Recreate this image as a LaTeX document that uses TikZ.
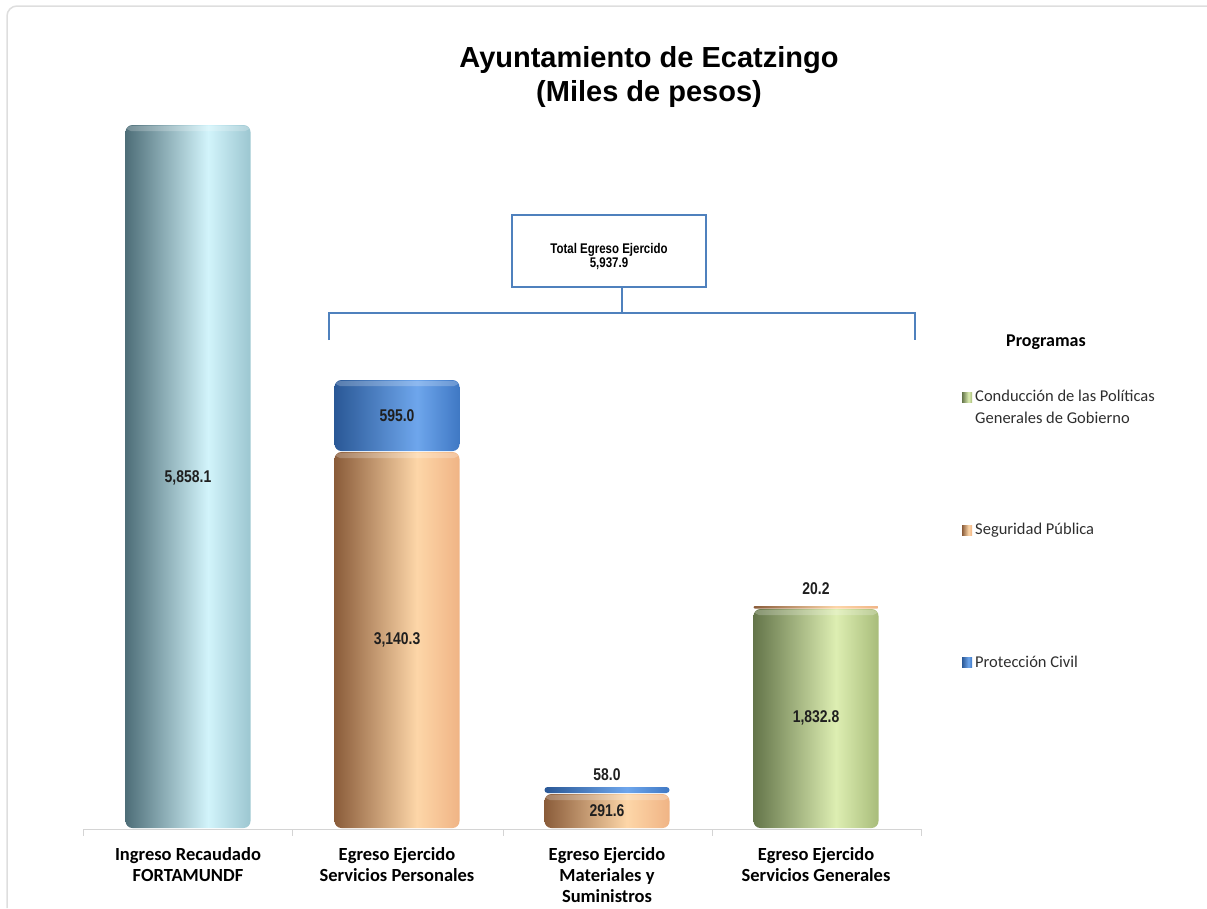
\documentclass[tikz,border=0pt]{standalone}
\usepackage{fontspec}
\setmainfont{Liberation Sans}
\newfontfamily\calibri{Carlito}
\newfontfamily\narrow{Liberation Sans}[FakeStretch=0.82]
\usetikzlibrary{positioning}

\definecolor{cyanD}{HTML}{4E6E78}
\definecolor{cyanL}{HTML}{D2F4FB}
\definecolor{cyanM}{HTML}{9CC6D0}
\definecolor{orangeD}{HTML}{8A5C3A}
\definecolor{orangeL}{HTML}{FDD6A8}
\definecolor{orangeM}{HTML}{F0B485}
\definecolor{blueD}{HTML}{2A5896}
\definecolor{blueL}{HTML}{6EA6EC}
\definecolor{blueM}{HTML}{3F78C4}
\definecolor{greenD}{HTML}{64754A}
\definecolor{greenL}{HTML}{DDEEB2}
\definecolor{greenM}{HTML}{A8BC7A}
\definecolor{bracketblue}{HTML}{4F81BD}

\pgfdeclarehorizontalshading{cylCyan}{100bp}{color(0bp)=(cyanD); color(25bp)=(cyanD); color(58bp)=(cyanL); color(75bp)=(cyanM); color(100bp)=(cyanM)}
\pgfdeclarehorizontalshading{cylOrange}{100bp}{color(0bp)=(orangeD); color(25bp)=(orangeD); color(58bp)=(orangeL); color(75bp)=(orangeM); color(100bp)=(orangeM)}
\pgfdeclarehorizontalshading{cylBlue}{100bp}{color(0bp)=(blueD); color(25bp)=(blueD); color(58bp)=(blueL); color(75bp)=(blueM); color(100bp)=(blueM)}
\pgfdeclarehorizontalshading{cylGreen}{100bp}{color(0bp)=(greenD); color(25bp)=(greenD); color(58bp)=(greenL); color(75bp)=(greenM); color(100bp)=(greenM)}

\begin{document}
\begin{tikzpicture}[
        x=1pt, y=-1pt,
        frame/.style={draw=black!13, line width=1.5pt, rounded corners=10pt},
        title/.style={font=\bfseries\fontsize{29}{34}\selectfont, align=center},
        value/.style={font=\narrow\bfseries\fontsize{17}{20}\selectfont, text=black!88},
        catlabel/.style={font=\calibri\bfseries\fontsize{18.5}{21}\selectfont, align=center, anchor=north, inner sep=0pt},
        axis/.style={draw=black!17, line width=1pt},
        totalbox/.style={draw=bracketblue, line width=2pt, minimum width=194pt, minimum height=72pt, inner sep=0pt, font=\narrow\bfseries\fontsize{14}{14}\selectfont},
        bracket/.style={draw=bracketblue, line width=2pt},
        rim/.style={fill=white, opacity=0.22, rounded corners=4pt},
        legendhead/.style={font=\calibri\bfseries\fontsize{18}{21}\selectfont},
        legendtext/.style={font=\calibri\fontsize{16.5}{22}\selectfont, align=left, anchor=west, inner sep=0pt, text=black!82},
        legendmark/.style={shade, minimum size=10pt, inner sep=0pt}
        ]
        \useasboundingbox (0,0) rectangle (1207,908);

        % Frame and title
        \draw[frame] (7,908) -- (7,6) -- (1207,6);
        \node[title] (chart_title) at (649,77) {Ayuntamiento de Ecatzingo\\(Miles de pesos)};

        % Bars (stacked segments)
        \foreach \xc/\ytop/\ybot/\shd/\rad in {188/125/828/cylCyan/7, 397/452/828/cylOrange/7, 397/380/451/cylBlue/7,
                607/794/828/cylOrange/7, 607/787/793/cylBlue/3, 816/609/828/cylGreen/7, 816/606/608.5/cylOrange/1.2}
            \shade[shading=\shd, rounded corners=\rad] (\xc-62.5,\ytop) rectangle (\xc+62.5,\ybot);
        % light rim on the lids
        \foreach \xc/\ytop in {188/125, 397/380, 397/452, 607/794, 816/609}
            \fill[rim] (\xc-61,\ytop+1) rectangle (\xc+61,\ytop+6);

        % Values
        \foreach \xc/\ly/\val/\nm in {188/478/{5,858.1}/ingreso, 397/640/{3,140.3}/personales-seg, 397/416/{595.0}/personales-prot,
                607/811/{291.6}/materiales-seg, 607/775/{58.0}/materiales-prot, 816/718/{1,832.8}/generales-cond, 816/589/{20.2}/generales-seg}
            \node[value] (val-\nm) at (\xc,\ly) {\val};

        % Category axis
        \coordinate (axis_l) at (83,829);
        \coordinate (axis_r) at (921,829);
        \draw[axis] (axis_l) -- (axis_r);
        \foreach \tx in {83,292,503,712,921}
            \draw[axis] (\tx,829) -- (\tx,836);
        \foreach \xc/\txt/\nm in {188/{Ingreso Recaudado\\FORTAMUNDF}/ingreso, 397/{Egreso Ejercido\\Servicios Personales}/personales,
                607/{Egreso Ejercido\\Materiales y\\Suministros}/materiales, 816/{Egreso Ejercido\\Servicios Generales}/generales}
            \node[catlabel] (cat-\nm) at (\xc,847) {\txt};

        % Total box and bracket
        \node[totalbox] (total_egreso) at (609,251)
            {\raisebox{-10.5pt}[0pt][0pt]{\begin{tabular}{@{}c@{}}Total Egreso Ejercido\\5,937.9\end{tabular}}};
        \coordinate (bracket_mid) at (622,313);
        \coordinate (bracket_l) at (329,340);
        \coordinate (bracket_r) at (915,340);
        \draw[bracket] (total_egreso.south -| bracket_mid) -- (bracket_mid);
        \draw[bracket] (bracket_l) -- (bracket_l |- bracket_mid) -- (bracket_r |- bracket_mid) -- (bracket_r);

        % Legend
        \node[legendhead] (programas) at (1046,342) {Programas};
        \node[legendmark, shading=cylGreen] (mark-cond) at (967,397) {};
        \node[legendtext] (leg-cond) at (975,407) {Conducción de las Políticas\\Generales de Gobierno};
        \node[legendmark, shading=cylOrange] (mark-seg) at (967,530) {};
        \node[legendtext] (leg-seg) at (975,530) {Seguridad Pública};
        \node[legendmark, shading=cylBlue] (mark-prot) at (967,662) {};
        \node[legendtext] (leg-prot) at (975,662) {Protección Civil};
\end{tikzpicture}
\end{document}
